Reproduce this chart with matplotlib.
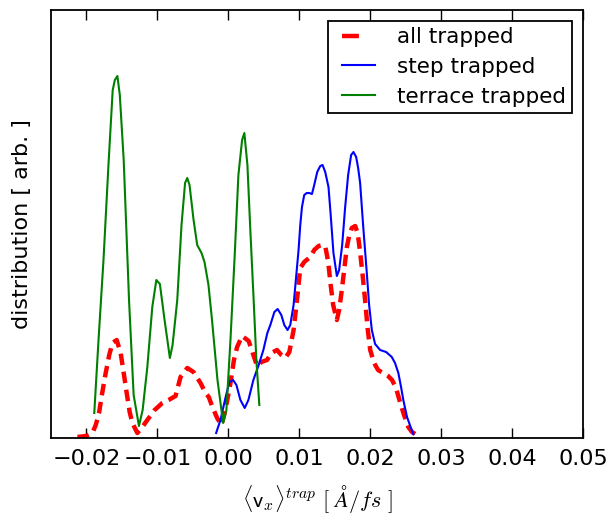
import matplotlib
matplotlib.use("Agg")
import matplotlib.pyplot as plt
from matplotlib.lines import Line2D
from matplotlib.legend_handler import HandlerLine2D

plt.rcParams['mathtext.fontset'] = 'cm'
plt.rcParams['font.family'] = ['DejaVu Sans']

# ---- data ----
x_all = [-0.02127, -0.0201, -0.01916, -0.01869, -0.01823, -0.01778, -0.01729, -0.01679,
         -0.01634, -0.01574, -0.01518, -0.01475, -0.01433, -0.01391, -0.01353, -0.01283,
         -0.01222, -0.01142, -0.01039, -0.00931, -0.00842, -0.00744, -0.00674, -0.00579,
         -0.00491, -0.00392, -0.00322, -0.00276, -0.00224, -0.00158, -0.00097, -0.00041,
         0.0003, 0.00079, 0.00124, 0.00194, 0.00287, 0.00339, 0.00405, 0.00466, 0.00546,
         0.00606, 0.00686, 0.00747, 0.00803, 0.0086, 0.0092, 0.00968, 0.01014, 0.0107,
         0.01155, 0.01211, 0.01272, 0.01323, 0.01366, 0.01408, 0.01443, 0.01478, 0.0153,
         0.01562, 0.016, 0.01633, 0.01671, 0.01703, 0.01741, 0.01788, 0.01823, 0.01858,
         0.01893, 0.01928, 0.01963, 0.02, 0.02055, 0.02111, 0.02181, 0.02252, 0.02308,
         0.02364, 0.0242, 0.02477, 0.02537, 0.02589, 0.02655]
y_all = [0.01, 0.02, 0.05, 0.13, 0.25, 0.45, 0.65, 0.83,
         0.95, 0.98, 0.85, 0.65, 0.45, 0.26, 0.15, 0.05,
         0.10, 0.18, 0.28, 0.35, 0.38, 0.42, 0.61, 0.70,
         0.66, 0.55, 0.45, 0.41, 0.31, 0.20, 0.13, 0.28,
         0.55, 0.78, 0.91, 1.02, 0.97, 0.86, 0.72, 0.76, 0.78,
         0.85, 0.88, 0.83, 0.80, 0.86, 1.08, 1.38, 1.70, 1.76,
         1.81, 1.88, 1.92, 1.93, 1.92, 1.76, 1.53, 1.33, 1.18,
         1.28, 1.48, 1.68, 1.91, 2.02, 2.10, 2.12, 2.05, 1.86,
         1.63, 1.38, 1.10, 0.88, 0.75, 0.68, 0.65, 0.62, 0.58,
         0.50, 0.36, 0.23, 0.11, 0.06, 0.03]

x_step = [-0.00172, -0.00111, -0.00041, 0.00015, 0.00067, 0.00114, 0.0017, 0.00231,
          0.00283, 0.00353, 0.00428, 0.00494, 0.0055, 0.00592, 0.00649, 0.00695,
          0.00747, 0.00789, 0.00835, 0.00873, 0.0092, 0.00958, 0.0099, 0.01014,
          0.01038, 0.0107, 0.01106, 0.01141, 0.01179, 0.01211, 0.01253, 0.01296,
          0.01328, 0.01366, 0.01412, 0.01443, 0.01482, 0.0153, 0.01562, 0.01605,
          0.01647, 0.01689, 0.01731, 0.01764, 0.01802, 0.0183, 0.01858, 0.019,
          0.01952, 0.01985, 0.02023, 0.02069, 0.0214, 0.02224, 0.02304, 0.0235,
          0.02397, 0.02435, 0.02467, 0.02519, 0.02585, 0.02608]
y_step = [0.05, 0.18, 0.40, 0.56, 0.58, 0.53, 0.38, 0.30,
          0.38, 0.58, 0.73, 0.88, 1.05, 1.13, 1.26, 1.29,
          1.23, 1.13, 1.08, 1.13, 1.33, 1.63, 1.88, 2.13,
          2.31, 2.43, 2.45, 2.45, 2.44, 2.53, 2.66, 2.72,
          2.73, 2.66, 2.51, 2.23, 1.85, 1.62, 1.68, 1.93,
          2.31, 2.63, 2.83, 2.86, 2.81, 2.70, 2.55, 2.13,
          1.65, 1.33, 1.08, 0.94, 0.88, 0.86, 0.81, 0.75,
          0.65, 0.51, 0.38, 0.21, 0.08, 0.04]

x_terr = [-0.0189, -0.0183, -0.0176, -0.0169, -0.0163, -0.0160, -0.01564, -0.0153,
          -0.01475, -0.0140, -0.01335, -0.0126, -0.01208, -0.01142, -0.01072, -0.01015,
          -0.00965, -0.00899, -0.00824, -0.00786, -0.0072, -0.0066, -0.0061, -0.00579,
          -0.00547, -0.0049, -0.00439, -0.00378, -0.00336, -0.0028, -0.0023, -0.00153,
          -0.00073, -0.00027, 0.0003, 0.0009, 0.00142, 0.00194, 0.00226, 0.00269,
          0.0031, 0.00357, 0.00395, 0.00437]
y_terr = [0.25, 0.98, 1.78, 2.73, 3.48, 3.58, 3.62, 3.43,
          2.78, 1.38, 0.43, 0.12, 0.28, 0.71, 1.31, 1.58,
          1.54, 1.18, 0.80, 0.93, 1.38, 2.13, 2.55, 2.60,
          2.53, 2.18, 1.93, 1.85, 1.76, 1.53, 1.18, 0.58,
          0.15, 0.28, 0.98, 1.83, 2.63, 2.98, 3.05, 2.73,
          2.08, 1.38, 0.78, 0.33]

labels = ['all trapped', 'step trapped', 'terrace trapped']
xticks = [-0.02, -0.01, 0.00, 0.01, 0.02, 0.03, 0.04, 0.05]

fig = plt.figure(figsize=(6.12, 5.25), dpi=100)
ax = fig.add_axes([51/612, 1-438/525, (583-51)/612, (438-10)/525])

ax.plot(x_all, y_all, color='#ff0000', lw=3.2, linestyle=(0, (2.6, 1.5)))
l_step, = ax.plot(x_step, y_step, color='#0000ff', lw=1.5)
l_terr, = ax.plot(x_terr, y_terr, color='#008000', lw=1.5)

ax.set_xlim(-0.025, 0.05)
ax.set_ylim(0, 4.28)
ax.set_yticks([])
ax.set_xticks(xticks)
ax.set_xticklabels(['%.2f' % t if t >= 0 else '\u2212%.2f' % abs(t) for t in xticks])
ax.tick_params(axis='x', direction='in', top=True, bottom=True, length=7, width=1,
               labelsize=16, pad=8)
for s in ax.spines.values():
    s.set_linewidth(1.3)

ax.set_ylabel('distribution [ arb. ]', fontsize=16, labelpad=14)
ax.set_xlabel(r'$\langle \mathsf{v}_x \rangle^{trap}\ [\ \AA/fs\ ]$', fontsize=16, labelpad=10)

# legend proxy for the dashed line (shows a single dash like the reference)
h_all = Line2D([], [], color='#ff0000', lw=3.2, linestyle=(0, (3.8, 6)))
hm = HandlerLine2D(xpad=0.35)
leg = ax.legend([h_all, l_step, l_terr], labels, loc='upper right', fontsize=15.5,
                fancybox=False, framealpha=1, edgecolor='black',
                handlelength=1.9, handletextpad=1.0, labelspacing=0.45,
                borderpad=0.3, borderaxespad=0.5,
                handler_map={h_all: hm, l_step: hm, l_terr: hm})
leg.get_frame().set_linewidth(1.3)

fig.savefig('out.png', dpi=100)
